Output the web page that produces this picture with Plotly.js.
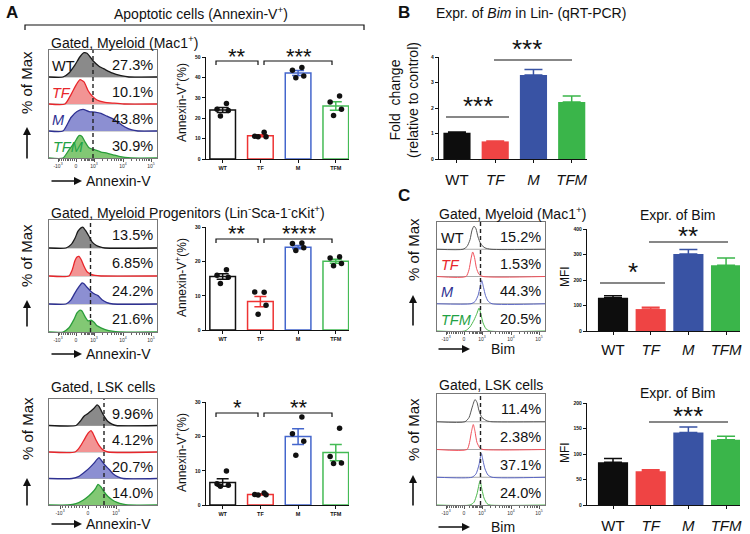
<!DOCTYPE html>
<html><head><meta charset="utf-8">
<script src="https://cdn.plot.ly/plotly-3.0.1.min.js"></script>
<style>html,body{margin:0;padding:0;background:#fff}#chart{width:750px;height:534px}</style>
</head><body><div id="chart"></div>
<script>
// ---------------- DATA ----------------
const groups = ['WT','TF','M','TFM'];
const catLabelsA = ['WT','TF','M','TFM'];
const catLabelsBC = ['WT','<i>TF</i>','<i>M</i>','<i>TFM</i>'];
const histTickVals = [9,27,45,74,102];
const histTickText = ['-10<sup>3</sup>','0','10<sup>3</sup>','10<sup>4</sup>','10<sup>5</sup>'];
const lskTickVals = [11,39,67];
const lskTickText = ['-10<sup>3</sup>','0','10<sup>3</sup>'];

// flow histograms: x = display channel, y = fraction of max (rows WT, TF, M, TFM)
const a1HistX = [
 [14,20,26,31,35,38,41,44,50,56,63,72,80],
 [16,22,27,31,35,39,43,48,55,65,75],
 [14,22,28,34,40,46,52,58,64,70,76,82,89],
 [14,20,26,30,33,36,40,46,52,58,64,70,76,82]];
const a1HistY = [
 [0,0.15,0.45,0.75,0.9,0.88,0.75,0.6,0.4,0.28,0.15,0.05,0],
 [0,0.35,0.7,0.9,0.82,0.5,0.3,0.15,0.07,0.03,0],
 [0,0.5,0.72,0.8,0.72,0.7,0.65,0.55,0.45,0.3,0.15,0.05,0],
 [0,0.3,0.6,0.83,0.8,0.6,0.38,0.3,0.22,0.18,0.12,0.06,0.02,0]];
const a2HistX = [
 [17,22,26,29,32,34,37,40,43,47,51,56],
 [20,23,26,28,30,32,35,38,42,46,52],
 [17,22,26,30,33,35,38,42,46,49,53,58,64],
 [14,20,25,28,31,33,36,39,42,45,48,52,57,63,70]];
const a2HistY = [
 [0,0.12,0.35,0.6,0.72,0.74,0.6,0.42,0.22,0.1,0.04,0],
 [0,0.2,0.55,0.68,0.7,0.6,0.35,0.15,0.06,0.02,0],
 [0,0.15,0.4,0.62,0.75,0.72,0.6,0.45,0.35,0.3,0.15,0.05,0],
 [0,0.15,0.45,0.68,0.78,0.75,0.55,0.4,0.42,0.35,0.22,0.15,0.08,0.03,0]];
const a3HistX = [
 [27,31,35,39,42,45,48,50,53,56,59,63,67],
 [26,31,35,38,40,42,44,47,50,54,59],
 [23,30,36,41,45,48,50,53,56,60,64,69,74],
 [19,27,34,40,44,47,49,52,55,59,63,68,74,79]];
const a3HistY = [
 [0,0.15,0.35,0.45,0.55,0.65,0.78,0.72,0.5,0.3,0.15,0.05,0],
 [0,0.2,0.45,0.65,0.75,0.81,0.7,0.45,0.25,0.08,0],
 [0,0.08,0.25,0.42,0.58,0.72,0.79,0.65,0.5,0.35,0.18,0.06,0],
 [0,0.05,0.18,0.35,0.5,0.65,0.78,0.68,0.5,0.32,0.2,0.1,0.03,0]];
const c1HistX = [
 [26,30,33,35,37,39,41,44,48,54],
 [29,32,34,35.7,37.5,39.5,42,46],
 [34,38,41,43,44.7,46.5,48.5,51,55],
 [28,33,37,40,42,44,46,49,53]];
const c1HistY = [
 [0,0.1,0.35,0.7,0.85,0.75,0.45,0.18,0.05,0],
 [0,0.25,0.65,0.9,0.7,0.3,0.08,0],
 [0,0.08,0.3,0.6,0.85,0.6,0.3,0.1,0],
 [0,0.15,0.4,0.65,0.84,0.6,0.3,0.08,0]];
const c2HistX = [
 [28,32,35,38,40,42,45,50,55],
 [30,32.5,34.5,36.3,38,40,43,46],
 [35,39,42,44.3,46,48,51,55],
 [33,37,40,43,45,47,50,53]];
const c2HistY = [
 [0,0.15,0.5,0.8,0.7,0.4,0.15,0.03,0],
 [0,0.25,0.65,0.9,0.65,0.25,0.05,0],
 [0,0.12,0.45,0.86,0.6,0.3,0.08,0],
 [0,0.1,0.4,0.86,0.55,0.25,0.05,0]];

const a1Pct = ['27.3%','10.1%','43.8%','30.9%'];
const a2Pct = ['13.5%','6.85%','24.2%','21.6%'];
const a3Pct = ['9.96%','4.12%','20.7%','14.0%'];
const c1Pct = ['15.2%','1.53%','44.3%','20.5%'];
const c2Pct = ['11.4%','2.38%','37.1%','24.0%'];
const a1Gate = 44, a2Gate = 41.5, a3Gate = 55, c1Gate = 43.5, c2Gate = 43.5;

// Annexin-V+ (%) bar charts
const a1Mean = [24.1,11.4,42.3,26.1];
const a1Sem  = [1.2,0.5,1.2,2.1];
const a1Pts  = [[27.3,24.5,23.8,21.2],[13.2,11.2,11.0,10.9],[45.0,43.6,40.8,40.0],[31.0,28.0,24.5,21.4]];
const a2Mean = [15.6,8.3,24.2,20.1];
const a2Sem  = [0.8,1.5,0.5,0.6];
const a2Pts  = [[17.6,16.0,15.4,13.6],[11.0,11.1,7.2,4.6],[25.4,25.3,24.0,23.2],[21.4,21.0,19.4,18.8]];
const a3Mean = [6.6,3.1,20.0,15.3];
const a3Sem  = [1.1,0.2,2.3,2.4];
const a3Pts  = [[9.9,6.2,5.8,5.5],[3.5,3.1,3.0,2.9],[25.7,20.8,18.6,14.5],[22.4,14.2,12.3,12.1]];
// Bim
const bMean = [1.03,0.69,3.29,2.24];
const bErr  = [0.03,0.02,0.22,0.23];
const c1Mean = [130,86,302,258];
const c1Err  = [8,7,18,28];
const c2Mean = [84,66,142,128];
const c2Err  = [7,3,11,7];

// ---------------- STYLE / LAYOUT ----------------
const W = 750, H = 534;
const fx = p => p / W, fy = p => 1 - p / H;
const FONT = 'Liberation Sans, Arial, sans-serif';
const lineCol = ['#1a1a1a','#e8262b','#2e3192','#2a9d3a'];
const fillCol = ['#8a8a8a','#f29494','#8c8fd2','#82c874'];
const txtCol  = ['#111111','#e8262b','#2e3192','#1fa245'];
const cLine   = ['#555555','#f0505a','#5a66c4','#4cb84c'];
const barOut  = ['#111111','#ee3333','#4466cc','#44bb55'];
const barFill = ['#0d0d0d','#ef4444','#3953a4','#3ab54a'];
const jitter  = [0.1,-0.15,0.15,-0.06];

const traces = [];
const shapes = [];
const annotations = [];
const layout = {
  width: W, height: H, margin: {l:0,r:0,t:0,b:0},
  paper_bgcolor: '#fff', plot_bgcolor: 'rgba(0,0,0,0)',
  showlegend: false, barmode: 'overlay',
  font: {family: FONT, color: '#111'},
  shapes, annotations
};
const axn = n => n === 1 ? '' : String(n);

function ann(text, x, y, o) {
  annotations.push(Object.assign({text, x: fx(x), y: fy(y), xref: 'paper', yref: 'paper',
    showarrow: false, font: {family: FONT, size: 14, color: '#111'}, xanchor: 'center', yanchor: 'middle'}, o || {}));
}
function arrow(tx, ty, sx, sy) {
  annotations.push({text: '', x: fx(tx), y: fy(ty), xref: 'paper', yref: 'paper', showarrow: true,
    ax: sx - tx, ay: sy - ty, arrowhead: 2, arrowsize: 1, arrowwidth: 1.6, arrowcolor: '#111'});
}
function pline(x0, y0, x1, y1, w) {
  shapes.push({type: 'line', xref: 'paper', yref: 'paper', x0: fx(x0), y0: fy(y0), x1: fx(x1), y1: fy(y1),
    line: {color: '#111', width: w || 1.2}});
}
function bracket(x0, x1, y, drop) {
  shapes.push({type: 'path', xref: 'paper', yref: 'paper',
    path: `M ${fx(x0)},${fy(y + drop)} L ${fx(x0)},${fy(y)} L ${fx(x1)},${fy(y)} L ${fx(x1)},${fy(y + drop)}`,
    line: {color: '#111', width: 1.2}});
}

function histPanel(n, box, hx, hy, pct, gate, ticks, labels, filled) {
  const a = axn(n);
  const [l, r, t, b] = box;
  const minor = [];
  for (let k = 2; k <= 9; k++) {
    if (ticks.vals.length > 3) {
      minor.push(ticks.vals[2] + (ticks.vals[3] - ticks.vals[2]) * Math.log10(k));
      minor.push(ticks.vals[3] + (ticks.vals[4] - ticks.vals[3]) * Math.log10(k));
    }
  }
  const span = ticks.vals[2] - ticks.vals[1];
  for (let k = 1; k < 10; k++) {
    minor.push(ticks.vals[1] - span * k / 10);
    minor.push(ticks.vals[1] + span * Math.sqrt(k / 10));
  }
  layout['xaxis' + a] = {domain: [fx(l), fx(r)], range: [0, 108], anchor: 'y' + a,
    showline: true, mirror: true, linecolor: '#777', linewidth: 1, ticks: 'outside', ticklen: 2.5,
    tickcolor: '#555', tickvals: ticks.vals, ticktext: ticks.text, tickfont: {size: 5, color: '#333'},
    minor: {tickvals: minor, ticklen: 1.5, tickcolor: '#666', ticks: 'outside'},
    showgrid: false, zeroline: false, fixedrange: true};
  layout['yaxis' + a] = {domain: [fy(b), fy(t)], range: [0, 4], anchor: 'x' + a,
    showline: true, mirror: true, linecolor: '#777', linewidth: 1, ticks: '', showticklabels: false,
    showgrid: false, zeroline: false, fixedrange: true};
  for (let k = 1; k <= 3; k++) {
    shapes.push({type: 'line', xref: 'x' + a, yref: 'y' + a, x0: 0, x1: 108, y0: k, y1: k,
      line: {color: '#aaa', width: 1}, layer: 'below'});
  }
  for (let i = 0; i < 4; i++) {
    const base = 3 - i;
    const xs = [0].concat(hx[i], [108]);
    const ys = [base].concat(hy[i].map(v => v + base), [base]);
    const tr = {type: 'scatter', mode: 'lines', x: xs, y: ys, xaxis: 'x' + a, yaxis: 'y' + a,
      line: {shape: 'spline', smoothing: 0.6, color: filled ? lineCol[i] : cLine[i], width: filled ? 1.3 : 1},
      hoverinfo: 'skip'};
    if (filled) { tr.fill = 'toself'; tr.fillcolor = fillCol[i]; }
    traces.push(tr);
    annotations.push({text: pct[i], x: 106, y: base + 0.45, xref: 'x' + a, yref: 'y' + a, showarrow: false,
      xanchor: 'right', yanchor: 'middle', font: {family: FONT, size: 14.5, color: '#111'}});
    if (labels) {
      annotations.push({text: i === 0 ? groups[i] : '<i>' + groups[i] + '</i>', x: 1.5, y: base + 0.42,
        xref: 'x' + a, yref: 'y' + a, showarrow: false, xanchor: 'left', yanchor: 'middle',
        font: {family: FONT, size: 14.5, color: txtCol[i]}});
    }
  }
  shapes.push({type: 'line', xref: 'x' + a, yref: 'y' + a, x0: gate, x1: gate, y0: 0, y1: 4,
    line: {color: '#222', width: 1.4, dash: '4px,3px'}});
}

function barPanel(n, box, yr, ytick, xr, means, errs, pts, filled, bw, cap, tickText, tickFont) {
  const a = axn(n);
  const [l, r, t, b] = box;
  layout['xaxis' + a] = {domain: [fx(l), fx(r)], range: xr, anchor: 'y' + a, showline: true,
    linecolor: '#111', linewidth: 1.2, ticks: 'outside', ticklen: 3, tickwidth: 1, tickcolor: '#111',
    tickvals: [0,1,2,3], ticktext: tickText, tickfont: tickFont, showgrid: false, zeroline: false, fixedrange: true};
  layout['yaxis' + a] = {domain: [fy(b), fy(t)], range: yr, anchor: 'x' + a, showline: true,
    linecolor: '#111', linewidth: 1.2, ticks: 'outside', ticklen: 3, tickwidth: 1, tickcolor: '#111',
    dtick: ytick, tickfont: {size: 5, weight: 'bold', color: '#111'}, showgrid: false, zeroline: false, fixedrange: true};
  for (let i = 0; i < 4; i++) {
    traces.push({type: 'bar', x: [i], y: [means[i]], width: bw, xaxis: 'x' + a, yaxis: 'y' + a,
      marker: filled ? {color: barFill[i], line: {width: 0}} : {color: '#fff', line: {color: barOut[i], width: 1.5}},
      error_y: filled ? {type: 'data', symmetric: false, array: [errs[i]], arrayminus: [0], color: barFill[i], thickness: 1.5, width: cap}
                      : {type: 'data', array: [errs[i]], color: barOut[i], thickness: 1.5, width: cap},
      hoverinfo: 'skip'});
    if (pts) {
      traces.push({type: 'scatter', mode: 'markers', x: pts[i].map((v, k) => i + jitter[k]), y: pts[i],
        xaxis: 'x' + a, yaxis: 'y' + a, marker: {color: '#111', size: 5.5}, hoverinfo: 'skip', cliponaxis: false});
    }
  }
}

// ---------- Panel A ----------
ann('<b>A</b>', 12, 13, {font: {family: FONT, size: 17, color: '#111'}});
ann('Apoptotic cells (Annexin-V<sup>+</sup>)', 201, 13, {font: {family: FONT, size: 14, color: '#111'}});
shapes.push({type: 'path', xref: 'paper', yref: 'paper',
  path: `M ${fx(25)},${fy(30)} L ${fx(25)},${fy(25)} L ${fx(364)},${fy(25)} L ${fx(364)},${fy(30)}`,
  line: {color: '#111', width: 1.2}});

const aTicks = {vals: histTickVals, text: histTickText};
const lTicks = {vals: lskTickVals, text: lskTickText};
histPanel(1, [49,157,50,158], a1HistX, a1HistY, a1Pct, a1Gate, aTicks, true, true);
histPanel(2, [49,157,220,332], a2HistX, a2HistY, a2Pct, a2Gate, aTicks, false, true);
histPanel(3, [49,157,399,505], a3HistX, a3HistY, a3Pct, a3Gate, lTicks, false, true);

ann('Gated, Myeloid (Mac1<sup>+</sup>)', 49, 42, {xanchor: 'left'});
ann('Gated, Myeloid Progenitors (Lin<sup>-</sup>Sca-1<sup>-</sup>cKit<sup>+</sup>)', 49, 212, {xanchor: 'left'});
ann('Gated, LSK cells', 49, 387, {xanchor: 'left'});
[[82,127,160],[255,300,328],[428,478,507]].forEach(([cy, tip, tail]) => {
  ann('% of Max', 27, cy, {textangle: -90, font: {family: FONT, size: 15, color: '#111'}});
  arrow(27, tip, 27, tail);
});
[181,354,524].forEach(y => { arrow(82, y, 50, y); ann('Annexin-V', 84, y, {xanchor: 'left'}); });

const aTickFont = {size: 5.5, weight: 'bold', color: '#111'};
barPanel(6, [205.7,349,57.3,159], [0,50], 10, [-0.45,3.35], a1Mean, a1Sem, a1Pts, false, 0.68, 6, catLabelsA, aTickFont);
barPanel(7, [205.7,349,227.3,330], [0,30], 10, [-0.45,3.35], a2Mean, a2Sem, a2Pts, false, 0.68, 6, catLabelsA, aTickFont);
barPanel(8, [205.7,349,402.3,505], [0,30], 10, [-0.45,3.35], a3Mean, a3Sem, a3Pts, false, 0.68, 6, catLabelsA, aTickFont);
[[103],[278],[453]].forEach(([cy]) => ann('Annexin-V<sup>+</sup>(%)', 181, cy, {textangle: -90, font: {family: FONT, size: 12, color: '#111'}}));

const starFontA = {family: FONT, size: 22, color: '#111'};
[[61, '**', '***', 52],[239, '**', '****', 230],[413, '*', '**', 403]].forEach(([by, s1, s2, sy]) => {
  bracket(216, 258, by, 4);
  bracket(264, 332, by, 4);
  ann(s1, 237, sy + 4, {font: starFontA});
  ann(s2, 299, sy + 4, {font: starFontA});
});

// ---------- Panel B ----------
ann('<b>B</b>', 404, 12, {font: {family: FONT, size: 17, color: '#111'}});
ann('Expr. of <i>Bim</i> in Lin- (qRT-PCR)', 531, 13);
const bcTickFont = {size: 15, color: '#111', family: FONT};
barPanel(9, [439,587,57,159], [0,4], 1, [-0.47,3.4], bMean, bErr, null, true, 0.71, 9, catLabelsBC, bcTickFont);
layout.xaxis9.ticklabelstandoff = 4;
ann('Fold  change<br>(relative to control)', 404, 100, {textangle: -90, font: {family: FONT, size: 14, color: '#111'}});
const starFontB = {family: FONT, size: 26, color: '#111'};
pline(446, 117, 509, 117);
ann('***', 478, 106, {font: starFontB});
pline(494, 60, 572, 60);
ann('***', 527, 49, {font: starFontB});

// ---------- Panel C ----------
ann('<b>C</b>', 404, 195, {font: {family: FONT, size: 17, color: '#111'}});
histPanel(4, [437,545,222,331], c1HistX, c1HistY, c1Pct, c1Gate, aTicks, true, false);
histPanel(5, [437,545,394,505], c2HistX, c2HistY, c2Pct, c2Gate, aTicks, false, false);
ann('Gated, Myeloid (Mac1<sup>+</sup>)', 437, 213, {xanchor: 'left'});
ann('Gated, LSK cells', 437, 385, {xanchor: 'left'});
[[250,295,327],[430,475,507]].forEach(([cy, tip, tail]) => {
  ann('% of Max', 413, cy, {textangle: -90, font: {family: FONT, size: 15, color: '#111'}});
  arrow(413, tip, 413, tail);
});
[349,527].forEach(y => { arrow(470, y, 437, y); ann('Bim', 503, y); });

barPanel(10, [587,740,229,331], [0,400], 100, [-0.69,3.37], c1Mean, c1Err, null, true, 0.8, 9, catLabelsBC, bcTickFont);
barPanel(11, [587,740,403,505], [0,200], 50, [-0.69,3.37], c2Mean, c2Err, null, true, 0.8, 9, catLabelsBC, bcTickFont);
layout.xaxis10.ticklabelstandoff = 2;
layout.xaxis11.ticklabelstandoff = 4;
ann('Expr. of Bim', 677, 215);
ann('Expr. of Bim', 677, 393);
ann('MFI', 565, 277, {textangle: -90, font: {family: FONT, size: 12, color: '#111'}});
ann('MFI', 565, 453, {textangle: -90, font: {family: FONT, size: 12, color: '#111'}});
pline(600, 283, 665, 283);
ann('*', 633, 272, {font: starFontB});
pline(649, 242, 728, 242);
ann('**', 688, 236, {font: starFontB});
pline(649, 422, 728, 422);
ann('***', 688, 416, {font: starFontB});

Plotly.newPlot('chart', traces, layout, {staticPlot: true, displayModeBar: false});
</script>
</body></html>
